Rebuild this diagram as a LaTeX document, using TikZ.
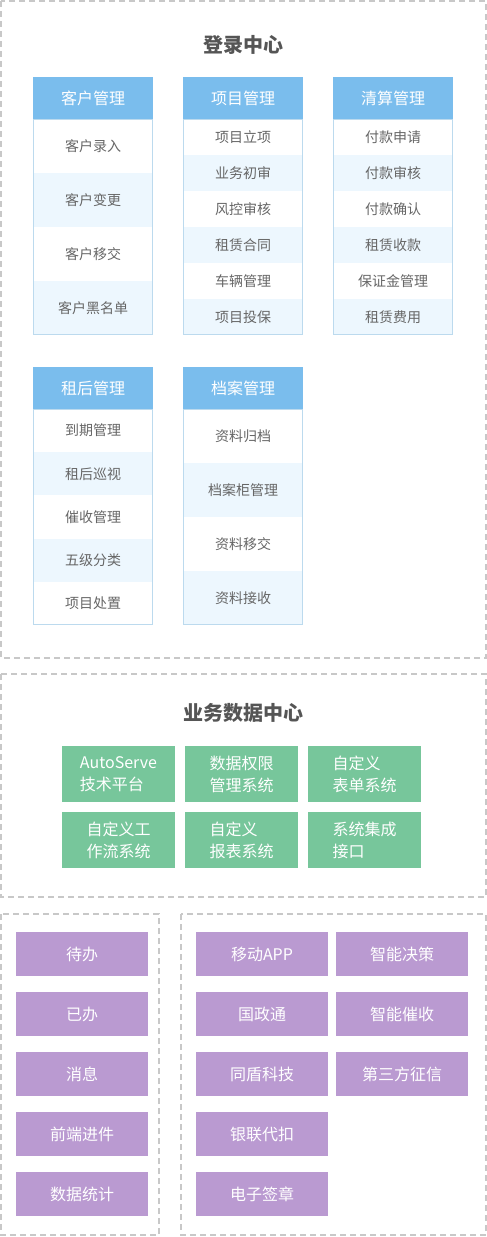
\documentclass[tikz,border=0pt]{standalone}
\usepackage{fontspec}
\setmainfont{Noto Sans CJK SC}
\definecolor{dashgray}{HTML}{C8C8C8}
\definecolor{hdrblue}{HTML}{7ABDED}
\definecolor{rowblue}{HTML}{EDF7FE}
\definecolor{tblline}{HTML}{BCDAEE}
\definecolor{txtgray}{HTML}{666666}
\definecolor{titlegray}{HTML}{555555}
\definecolor{greenbox}{HTML}{77C69B}
\definecolor{purplebox}{HTML}{BA9AD1}
\tikzset{
  frame/.style={draw=dashgray, line width=2pt, dash pattern=on 6pt off 4pt},
  titletext/.style={text=titlegray, font=\fontsize{20pt}{24pt}\selectfont\bfseries},
  hdr/.style={fill=hdrblue, text=white, minimum width=120pt, minimum height=42pt, inner sep=0pt, font=\fontsize{16pt}{20pt}\selectfont},
  cell/.style={text=txtgray, minimum width=120pt, inner sep=0pt, font=\fontsize{14pt}{18pt}\selectfont},
  rowfill1/.style={fill=white},
  rowfill0/.style={fill=rowblue},
  tblborder/.style={draw=tblline, line width=1pt},
  gbox/.style={fill=greenbox, text=white, minimum width=113pt, minimum height=56pt, inner sep=0pt, align=left, font=\fontsize{16pt}{22pt}\selectfont},
  pbox/.style={fill=purplebox, text=white, minimum width=132pt, minimum height=44pt, inner sep=0pt, font=\fontsize{16pt}{20pt}\selectfont},
}
\begin{document}
\begin{tikzpicture}[x=1pt,y=-1pt]
\useasboundingbox (0,0) rectangle (487,1237);
% frames
\draw[frame] (1,1) rectangle (486,658);
\draw[frame] (1,674) rectangle (486,897);
\draw[frame] (1,914) rectangle (159,1235);
\draw[frame] (181,914) rectangle (486,1235);
% titles
\node[titletext] (t1) at (243,45) {登录中心};
\node[titletext] (t2) at (243,713) {业务数据中心};
% table 1: 客户管理
\node[hdr] (h1) at (93,98) {客户管理};
\foreach \t [count=\i, evaluate=\i as \p using {int(mod(\i,2))}] in {客户录入,客户变更,客户移交,客户黑名单}
  \node[cell, rowfill\p, minimum height=54pt] (a\i) at (93,{119+54*(\i-0.5)}) {\t};
\draw[tblborder] (33.5,119) rectangle (152.5,334.5);
% table 2: 项目管理
\node[hdr] (h2) at (243,98) {项目管理};
\foreach \t [count=\i, evaluate=\i as \p using {int(mod(\i,2))}] in {项目立项,业务初审,风控审核,租赁合同,车辆管理,项目投保}
  \node[cell, rowfill\p, minimum height=36pt] (b\i) at (243,{119+36*(\i-0.5)}) {\t};
\draw[tblborder] (183.5,119) rectangle (302.5,334.5);
% table 3: 清算管理
\node[hdr] (h3) at (393,98) {清算管理};
\foreach \t [count=\i, evaluate=\i as \p using {int(mod(\i,2))}] in {付款申请,付款审核,付款确认,租赁收款,保证金管理,租赁费用}
  \node[cell, rowfill\p, minimum height=36pt] (c\i) at (393,{119+36*(\i-0.5)}) {\t};
\draw[tblborder] (333.5,119) rectangle (452.5,334.5);
% table 4: 租后管理
\node[hdr] (h4) at (93,388) {租后管理};
\foreach \t [count=\i, evaluate=\i as \p using {int(mod(\i,2))}] in {到期管理,租后巡视,催收管理,五级分类,项目处置}
  \node[cell, rowfill\p, minimum height=43.2pt] (d\i) at (93,{409+43.2*(\i-0.5)}) {\t};
\draw[tblborder] (33.5,409) rectangle (152.5,624.5);
% table 5: 档案管理
\node[hdr] (h5) at (243,388) {档案管理};
\foreach \t [count=\i, evaluate=\i as \p using {int(mod(\i,2))}] in {资料归档,档案柜管理,资料移交,资料接收}
  \node[cell, rowfill\p, minimum height=54pt] (e\i) at (243,{409+54*(\i-0.5)}) {\t};
\draw[tblborder] (183.5,409) rectangle (302.5,624.5);
% green boxes
\node[gbox] (g1) at (118.5,774) {AutoServe\\技术平台};
\node[gbox] (g2) at (241.5,774) {数据权限\\管理系统};
\node[gbox] (g3) at (364.5,774) {自定义\\表单系统};
\node[gbox] (g4) at (118.5,840) {自定义工\\作流系统};
\node[gbox] (g5) at (241.5,840) {自定义\\报表系统};
\node[gbox] (g6) at (364.5,840) {系统集成\\接口};
% purple boxes left
\node[pbox] (p1) at (82,954) {待办};
\node[pbox] (p2) at (82,1014) {已办};
\node[pbox] (p3) at (82,1074) {消息};
\node[pbox] (p4) at (82,1134) {前端进件};
\node[pbox] (p5) at (82,1194) {数据统计};
% purple boxes right
\node[pbox] (q1) at (262,954) {移动APP};
\node[pbox] (q2) at (262,1014) {国政通};
\node[pbox] (q3) at (262,1074) {同盾科技};
\node[pbox] (q4) at (262,1134) {银联代扣};
\node[pbox] (q5) at (262,1194) {电子签章};
\node[pbox] (r1) at (402,954) {智能决策};
\node[pbox] (r2) at (402,1014) {智能催收};
\node[pbox] (r3) at (402,1074) {第三方征信};
\end{tikzpicture}
\end{document}
